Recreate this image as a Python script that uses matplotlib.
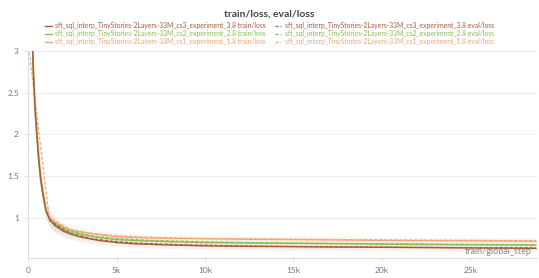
import matplotlib.pyplot as plt
from matplotlib.ticker import FuncFormatter

plt.rcParams['font.family'] = ['Lato', 'DejaVu Sans']

# smoothed train/loss
steps = [250, 300, 400, 500, 600, 700, 800, 1000, 1200, 1500, 2000, 2500, 3000,
         4000, 5000, 6000, 8000, 10000, 12000, 15000, 18000, 20000, 22000, 25000, 28700]
cs3_train = [3.1, 2.75, 2.3, 2.0, 1.72, 1.5, 1.34, 1.1, 0.99, 0.91, 0.84, 0.80, 0.77,
             0.73, 0.705, 0.69, 0.675, 0.665, 0.66, 0.655, 0.65, 0.648, 0.645, 0.64, 0.635]
cs2_train = [3.05, 2.7, 2.25, 1.95, 1.68, 1.47, 1.32, 1.09, 0.99, 0.92, 0.86, 0.82, 0.80,
             0.765, 0.74, 0.73, 0.715, 0.705, 0.70, 0.695, 0.69, 0.685, 0.682, 0.678, 0.675]
cs1_train = [3.2, 2.85, 2.35, 2.05, 1.75, 1.53, 1.37, 1.12, 1.01, 0.94, 0.88, 0.85, 0.83,
             0.80, 0.775, 0.765, 0.755, 0.75, 0.745, 0.74, 0.735, 0.73, 0.728, 0.725, 0.72]
# half-width of the faint raw-loss band
noise = [0.2, 0.2, 0.2, 0.18, 0.16, 0.14, 0.12, 0.1, 0.09, 0.08, 0.07, 0.06, 0.055,
         0.05, 0.045, 0.045, 0.04, 0.04, 0.04, 0.04, 0.04, 0.04, 0.04, 0.04, 0.04]

# eval/loss
eval_steps = [0, 1200, 2400, 3600, 4800, 6000, 7200, 8400, 9600, 10800, 12000, 13200,
              14400, 15600, 16800, 18000, 19200, 20400, 21600, 22800, 24000, 25200,
              26400, 27600, 28700]
cs3_eval = [None, 0.97, 0.81, 0.75, 0.72, 0.70, 0.69, 0.68, 0.675, 0.67, 0.665, 0.662,
            0.66, 0.657, 0.655, 0.653, 0.651, 0.65, 0.648, 0.647, 0.645, 0.644, 0.643,
            0.642, 0.641]
cs2_eval = [None, 0.98, 0.84, 0.785, 0.755, 0.74, 0.73, 0.722, 0.715, 0.71, 0.706, 0.703,
            0.70, 0.698, 0.696, 0.694, 0.692, 0.69, 0.688, 0.686, 0.684, 0.683, 0.681,
            0.68, 0.679]
cs1_eval = [3.1, 1.0, 0.86, 0.815, 0.79, 0.775, 0.767, 0.76, 0.755, 0.752, 0.75, 0.748,
            0.746, 0.744, 0.742, 0.74, 0.738, 0.737, 0.735, 0.734, 0.733, 0.732, 0.731,
            0.73, 0.73]

prefix = 'sft_sql_interp_TinyStories-2Layers-33M_'
runs = [
    ('cs3_experiment_3.8', cs3_train, cs3_eval, '#a85a3f'),
    ('cs2_experiment_2.8', cs2_train, cs2_eval, '#8dbb4c'),
    ('cs1_experiment_1.8', cs1_train, cs1_eval, '#f2a57a'),
]

fig = plt.figure(figsize=(5.39, 2.78), dpi=100)
ax = fig.add_axes([0.052, 0.072, 0.944, 0.745])

train_handles = []
eval_handles = []
for name, tr, ev, col in runs:
    lo = [v - n for v, n in zip(tr, noise)]
    hi = [v + n for v, n in zip(tr, noise)]
    ax.fill_between(steps, lo, hi, color=col, alpha=0.09, lw=0)
for name, tr, ev, col in reversed(runs):
    pts = [(s, v) for s, v in zip(eval_steps, ev) if v is not None]
    h2, = ax.plot([p[0] for p in pts], [p[1] for p in pts], color=col, lw=0.9,
                  ls=(0, (2.5, 1.5)), label=prefix + name + ' eval/loss')
    h1, = ax.plot(steps, tr, color=col, lw=1.0, label=prefix + name + ' train/loss')
    train_handles.insert(0, h1)
    eval_handles.insert(0, h2)

ax.set_xlim(0, 28750)
ax.set_ylim(0.52, 3.0)
ax.set_yticks([1, 1.5, 2, 2.5, 3])
ax.set_yticklabels(['1', '1.5', '2', '2.5', '3'])
ax.set_xticks([0, 5000, 10000, 15000, 20000, 25000])
ax.xaxis.set_major_formatter(FuncFormatter(lambda v, p: '0' if v == 0 else f'{int(v / 1000)}k'))
ax.tick_params(colors='#dddddd', labelcolor='#777777', labelsize=6, length=3, width=0.6)
ax.grid(axis='y', color='#eeeeee', lw=0.7)
ax.set_axisbelow(True)
for s in ['top', 'right']:
    ax.spines[s].set_visible(False)
for s in ['left', 'bottom']:
    ax.spines[s].set_color('#dddddd')
    ax.spines[s].set_linewidth(0.8)

ax.text(0.99, 0.03, 'train/global_step', transform=ax.transAxes, ha='right', va='center',
        fontsize=6.5, color='#888888')

fig.text(0.5, 0.95, 'train/loss, eval/loss', ha='center', va='center', fontsize=7.5,
         color='#444444', fontweight='bold')
fig.legend(handles=train_handles + eval_handles, ncol=2, loc='center',
           bbox_to_anchor=(0.5, 0.878), frameon=False, fontsize=4.9, labelcolor='linecolor',
           handlelength=1.0, handletextpad=0.5, columnspacing=1.3, labelspacing=0.15,
           borderpad=0)

fig.savefig('out.png', dpi=100)
